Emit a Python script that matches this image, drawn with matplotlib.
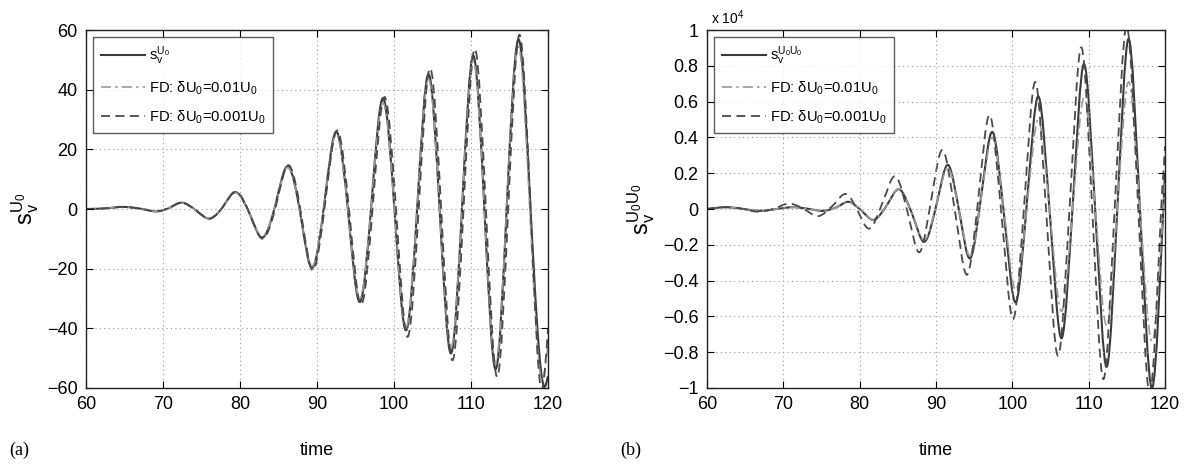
import numpy as np
import matplotlib
matplotlib.use("Agg")
import matplotlib.pyplot as plt
from matplotlib.path import Path
from matplotlib.patches import PathPatch
from matplotlib.lines import Line2D

plt.rcParams['font.family'] = ['Liberation Sans', 'DejaVu Sans']
plt.rcParams['mathtext.fontset'] = 'custom'
plt.rcParams['mathtext.rm'] = 'Liberation Sans'
plt.rcParams['mathtext.it'] = 'Liberation Sans'
plt.rcParams['mathtext.sf'] = 'Liberation Sans'

# ---------------- data: panel (a) ----------------
t_a_exact = [60, 62.5, 65, 67.3, 69.5, 71.0, 72.3, 74.3, 76.2, 77.9, 79.5, 81.3, 83.1, 84.7, 86.3,
             87.9, 89.4, 91.0, 92.6, 94.1, 95.6, 97.1, 98.6, 100.1, 101.6, 103.05, 104.5, 105.95,
             107.4, 108.85, 110.3, 111.75, 113.2, 114.65, 116.1, 117.75, 119.5, 120]
v_a_exact = [0, 0.2, 0.7, 0, -0.7, 0.6, 2.1, -0.5, -3.1, 1.2, 5.6, -1.9, -9.3, 2.5, 14.2,
             -2.7, -19.7, 3.0, 25.7, -2.7, -31.1, 3.0, 37.1, -1.8, -40.6, 2.3, 45.2, -1.6,
             -48.4, 1.5, 51.4, -1.1, -53.7, 1.5, 56.7, -1.4, -59.6, -56]

t_a_fd01 = [60, 62.5, 65, 67.3, 69.5, 71.0, 72.3, 74.3, 76.2, 77.9, 79.5, 81.3, 83.1, 84.7, 86.3,
            87.9, 89.4, 91.0, 92.6, 94.1, 95.6, 97.1, 98.6, 100.1, 101.6, 103.05, 104.5, 105.95,
            107.4, 108.85, 110.3, 111.75, 113.2, 114.65, 116.1, 117.65, 119.2, 120]
v_a_fd01 = [0, 0.2, 0.7, 0, -0.7, 0.6, 2.0, -0.5, -3.0, 1.1, 5.4, -1.8, -9.0, 2.4, 13.8,
            -2.6, -19.2, 2.9, 24.8, -2.6, -30.0, 2.9, 35.5, -1.7, -39.5, 2.2, 43.5, -1.5,
            -46.5, 1.4, 49.5, -1.0, -52.0, 1.4, 54.5, -1.3, -57.5, -45]

t_a_fd001 = [60, 62.5, 65, 67.3, 69.5, 71.0, 72.3, 74.3, 76.2, 77.9, 79.5, 81.3, 83.2, 84.8, 86.4,
             88.0, 89.5, 91.1, 92.7, 94.25, 95.8, 97.3, 98.8, 100.3, 101.8, 103.25, 104.7, 106.15,
             107.6, 109.05, 110.5, 111.95, 113.4, 114.85, 116.3, 117.75, 119.2, 120]
v_a_fd001 = [0, 0.2, 0.7, 0, -0.7, 0.6, 2.1, -0.5, -3.2, 1.2, 5.8, -1.9, -9.6, 2.5, 14.6,
             -2.7, -20.5, 3.0, 26.2, -2.7, -32.0, 3.0, 37.5, -1.8, -42.8, 2.3, 47.2, -1.6,
             -50.7, 1.5, 53.7, -1.1, -56.3, 1.5, 58.4, -1.4, -60.5, -40]

# ---------------- data: panel (b)  (values in units of 1e4) ----------------
t_b_exact = [60, 62.7, 64.8, 66.8, 69.1, 71.4, 73.4, 75.3, 77.0, 78.6, 80.25, 81.9, 83.55, 85.2,
             86.9, 88.6, 90.1, 91.6, 93.05, 94.5, 95.95, 97.4, 98.95, 100.5, 101.95, 103.4,
             104.95, 106.5, 107.95, 109.4, 110.9, 112.4, 113.8, 115.2, 116.75, 118.3, 120]
v_b_exact = [0, 0.01, 0, -0.01, 0, 0.01, 0, -0.01, 0.01, 0.04, -0.01, -0.06, 0.02, 0.11,
             -0.03, -0.18, 0.03, 0.246, -0.015, -0.275, 0.08, 0.43, -0.045, -0.52, 0.055, 0.63,
             -0.045, -0.72, 0.045, 0.81, -0.035, -0.88, 0.035, 0.95, -0.025, -1.0, 0.2]

t_b_fd01 = [60, 62.7, 64.8, 66.8, 69.1, 71.4, 73.4, 75.3, 77.0, 78.6, 80.25, 81.9, 83.55, 85.2,
            86.9, 88.6, 90.1, 91.6, 93.05, 94.5, 95.95, 97.4, 98.95, 100.5, 101.95, 103.4,
            104.95, 106.5, 107.95, 109.4, 110.9, 112.4, 113.8, 115.2, 116.75, 118.3, 120]
v_b_fd01 = [0, 0.01, 0, -0.01, 0, 0.01, 0, -0.01, 0.01, 0.04, -0.01, -0.06, 0.02, 0.11,
            -0.03, -0.17, 0.03, 0.23, -0.015, -0.26, 0.07, 0.40, -0.025, -0.45, 0.025, 0.50,
            -0.035, -0.57, 0.025, 0.62, -0.015, -0.65, 0.03, 0.71, -0.015, -0.74, 0.15]

t_b_fd001 = [60, 62.7, 64.8, 66.6, 68.7, 70.8, 72.7, 74.6, 76.5, 78.4, 79.8, 81.2, 83.0, 84.8,
             86.35, 87.9, 89.35, 90.8, 92.5, 94.2, 95.6, 97.0, 98.6, 100.2, 101.6, 103.0,
             104.5, 106.0, 107.55, 109.1, 110.5, 111.9, 113.45, 115.0, 116.5, 118.0, 119.5, 120]
v_b_fd001 = [0, 0.01, 0, -0.015, 0, 0.03, 0, -0.04, 0.02, 0.08, -0.015, -0.11, 0.035, 0.18,
             -0.03, -0.24, 0.045, 0.33, -0.015, -0.36, 0.08, 0.525, -0.04, -0.61, 0.05, 0.71,
             -0.055, -0.82, 0.04, 0.90, -0.025, -0.95, 0.035, 1.02, 0.0, -1.03, 0.0, 0.35]

xticks = [60, 70, 80, 90, 100, 110, 120]
yticks_a = [-60, -40, -20, 0, 20, 40, 60]
yticklabels_a = ['\u221260', '\u221240', '\u221220', '0', '20', '40', '60']
yticks_b = [-1, -0.8, -0.6, -0.4, -0.2, 0, 0.2, 0.4, 0.6, 0.8, 1]
yticklabels_b = ['\u22121', '\u22120.8', '\u22120.6', '\u22120.4', '\u22120.2', '0',
                 '0.2', '0.4', '0.6', '0.8', '1']

labels_a = [r'$\mathrm{s_v^{U_0}}$', r'FD: $\mathrm{\delta U_0}$=0.01$\mathrm{U_0}$',
            r'FD: $\mathrm{\delta U_0}$=0.001$\mathrm{U_0}$']
labels_b = [r'$\mathrm{s_v^{U_0U_0}}$', r'FD: $\mathrm{\delta U_0}$=0.01$\mathrm{U_0}$',
            r'FD: $\mathrm{\delta U_0}$=0.001$\mathrm{U_0}$']

styles = [dict(color='#3a3a3a', lw=1.5, ls='-'),
          dict(color='#9a9a9a', lw=1.2, ls=(0, (6, 2.5, 1.5, 2.5))),
          dict(color='#4a4a4a', lw=1.3, ls=(0, (5, 3)))]


def smooth_curve(ax, t, v, k, style):
    t = np.asarray(t, float)
    v = np.asarray(v, float)
    m = np.gradient(v, t) * k
    verts = [(t[0], v[0])]
    codes = [Path.MOVETO]
    for i in range(len(t) - 1):
        h = t[i + 1] - t[i]
        verts += [(t[i] + h / 3, v[i] + m[i] * h / 3),
                  (t[i + 1] - h / 3, v[i + 1] - m[i + 1] * h / 3),
                  (t[i + 1], v[i + 1])]
        codes += [Path.CURVE4] * 3
    patch = PathPatch(Path(verts, codes), fill=False, edgecolor=style['color'],
                      lw=style['lw'], linestyle=style['ls'], capstyle='butt', joinstyle='round')
    ax.add_patch(patch)


fig = plt.figure(figsize=(11.85, 4.66), dpi=100)
ax_a = fig.add_axes([0.0726, 0.1674, 0.3899, 0.7682])
ax_b = fig.add_axes([0.5966, 0.1674, 0.3865, 0.7682])

series_a = [(t_a_exact, v_a_exact), (t_a_fd01, v_a_fd01), (t_a_fd001, v_a_fd001)]
series_b = [(t_b_exact, v_b_exact), (t_b_fd01, v_b_fd01), (t_b_fd001, v_b_fd001)]

for ax, series, labels, yt, ytl, ylim, ylab, kk in [
        (ax_a, series_a, labels_a, yticks_a, yticklabels_a, (-60, 60), r'$\mathrm{s_v^{U_0}}$', 1.4),
        (ax_b, series_b, labels_b, yticks_b, yticklabels_b, (-1, 1), r'$\mathrm{s_v^{U_0U_0}}$', 1.2)]:
    for (t, v), st in zip(series, styles):
        smooth_curve(ax, t, v, kk, st)
    ax.set_xlim(60, 120)
    ax.set_ylim(*ylim)
    ax.set_xticks(xticks)
    ax.set_xticklabels([str(x) for x in xticks])
    ax.set_yticks(yt)
    ax.set_yticklabels(ytl)
    ax.tick_params(direction='in', top=True, right=True, length=5, width=0.8,
                   labelsize=13, pad=6)
    ax.grid(True, linestyle=(0, (1, 3)), color='#9a9a9a', lw=0.8)
    for sp in ax.spines.values():
        sp.set_linewidth(1.0)
        sp.set_color('#222222')
    ax.set_xlabel('time', fontsize=13, labelpad=21)
    ax.set_ylabel(ylab, fontsize=17, labelpad=4)
    handles = [Line2D([], [], color=st['color'], lw=st['lw'], ls=st['ls']) for st in styles]
    leg = ax.legend(handles, labels, loc='upper left', fontsize=10.6, frameon=True,
                    fancybox=False, edgecolor='#333333', handlelength=3.0,
                    borderaxespad=0.5, labelspacing=0.8, handletextpad=0.3,
                    borderpad=0.5)
    leg.get_frame().set_linewidth(1.0)

fig.text(0.6, 0.963, r'x 10$^{4}$', fontsize=10, ha='left', va='center')
fig.text(0.008, 0.034, '(a)', fontsize=13, family='Liberation Serif', ha='left', va='center')
fig.text(0.523, 0.034, '(b)', fontsize=13, family='Liberation Serif', ha='left', va='center')

fig.savefig('out.png', dpi=100)
